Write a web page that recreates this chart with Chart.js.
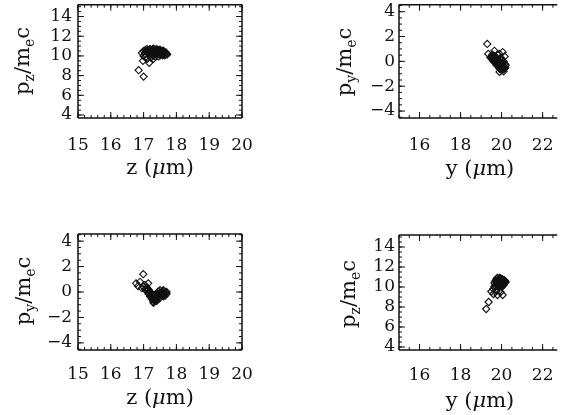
<!DOCTYPE html>
<html><head><meta charset="utf-8">
<script src="https://cdn.jsdelivr.net/npm/chart.js@4/dist/chart.umd.min.js"></script>
<style>
html,body{margin:0;padding:0;background:#fff;width:562px;height:415px;overflow:hidden;position:relative;font-family:"DejaVu Serif",serif;}
canvas{position:absolute;}
.t{position:absolute;white-space:nowrap;color:#111;font-size:21px;line-height:1;transform:translate(-50%,-50%);}
.yt{transform:translate(-50%,-50%) rotate(-90deg);}
sub{font-size:14px;vertical-align:-5px;line-height:0;}
</style></head><body>
<canvas id="c1" width="281" height="200" style="left:0;top:0"></canvas>
<canvas id="c2" width="281" height="200" style="left:281px;top:0"></canvas>
<canvas id="c3" width="281" height="215" style="left:0;top:200px"></canvas>
<canvas id="c4" width="281" height="215" style="left:281px;top:200px"></canvas>

<div class="t yt" style="left:22px;top:61px">p<sub>z</sub>/m<sub>e</sub>c</div>
<div class="t" style="left:160px;top:167px">z (<i>μ</i>m)</div>
<div class="t yt" style="left:344px;top:62px">p<sub>y</sub>/m<sub>e</sub>c</div>
<div class="t" style="left:480px;top:168px">y (<i>μ</i>m)</div>
<div class="t yt" style="left:23px;top:291px">p<sub>y</sub>/m<sub>e</sub>c</div>
<div class="t" style="left:160px;top:397px">z (<i>μ</i>m)</div>
<div class="t yt" style="left:348px;top:294px">p<sub>z</sub>/m<sub>e</sub>c</div>
<div class="t" style="left:480px;top:400px">y (<i>μ</i>m)</div>

<script>
// ---- tick labels ----
const zTicks  = [15, 16, 17, 18, 19, 20];
const yTicks  = [16, 18, 20, 22];
const pzTicks = [4, 6, 8, 10, 12, 14];
const pyTicks = [-4, -2, 0, 2, 4];

// ---- panel 1: z vs pz ----
const p1_z  = [16.95,17.0,17.05,17.1,17.15,17.2,17.25,17.3,17.35,17.4,17.45,17.5,17.55,17.6,17.65,17.7,
               17.05,17.1,17.15,17.2,17.25,17.3,17.35,17.4,17.45,17.5,17.55,17.6,17.65,17.3,17.4,17.5,17.45,17.35,17.2,17.0,
               17.22,17.28,17.32,17.38,17.42,17.48,17.52,17.58,17.62,17.68,17.72,17.35,17.45,17.55,17.65,17.25,17.15,17.12,
               17.08,17.18,17.28,17.42,17.5,17.6,17.38,17.48,17.58,17.3,
               16.98,17.11,17.17,17.3,17.05,17.22,
               16.85,17.0];
const p1_pz = [10.3,10.5,10.6,10.7,10.55,10.7,10.6,10.75,10.65,10.7,10.6,10.55,10.5,10.4,10.3,10.2,
               10.2,10.4,10.25,10.45,10.3,10.5,10.35,10.45,10.3,10.35,10.2,10.15,10.05,10.1,10.15,10.05,9.95,9.95,10.1,10.0,
               10.35,10.55,10.3,10.55,10.25,10.45,10.25,10.45,10.3,10.35,10.15,10.45,10.5,10.4,10.2,10.45,10.4,10.6,
               10.45,10.65,10.7,10.6,10.65,10.55,10.2,10.15,10.05,10.0,
               9.5,9.7,9.3,9.7,9.85,9.85,
               8.55,7.9];

// ---- panel 2: y vs py ----
const p2_y  = [19.5,19.55,19.6,19.6,19.65,19.7,19.7,19.75,19.75,19.8,19.8,19.85,19.85,19.9,19.9,19.95,19.95,20.0,20.0,20.05,20.05,20.1,20.15,20.1,19.9,19.65,19.95,20.0,20.1,20.2,19.55,
               19.52,19.58,19.62,19.68,19.72,19.78,19.82,19.88,19.92,19.98,20.02,20.08,20.12,20.18,19.7,19.8,19.9,20.0,19.85,19.95,20.05,19.75,19.65,19.6,20.15,
               19.35,19.65,20.05,19.8,19.45,19.9,20.15,
               19.3];
const p2_py = [0.4,0.2,0.3,0.0,0.15,-0.1,0.25,0.05,-0.3,-0.15,0.2,-0.4,0.0,-0.25,-0.6,-0.45,-0.1,-0.3,-0.7,-0.5,-0.15,-0.4,-0.55,-0.8,-0.85,0.45,0.3,0.1,0.0,-0.3,0.55,
               0.25,0.1,0.2,0.05,-0.05,-0.2,-0.05,-0.35,-0.4,-0.55,-0.45,-0.65,-0.6,-0.5,0.1,-0.3,-0.15,-0.2,-0.2,-0.3,-0.35,-0.15,0.3,0.4,-0.2,
               0.6,0.85,0.75,0.55,0.3,0.6,0.4,
               1.4];

// ---- panel 3: z vs py ----
const p3_z  = [17.0,17.05,17.1,17.1,17.15,17.15,17.2,17.2,17.25,17.25,17.3,17.3,17.35,17.35,17.4,17.4,17.45,17.45,17.5,17.5,17.55,17.55,17.6,17.6,17.65,17.65,17.7,17.7,17.3,17.4,17.5,17.6,
               17.08,17.12,17.18,17.22,17.28,17.32,17.38,17.42,17.48,17.52,17.58,17.62,17.68,17.45,17.35,17.25,17.4,17.55,17.5,17.3,17.2,17.15,17.45,17.6,17.35,
               16.77,16.89,17.04,16.83,17.14,16.95,
               16.99];
const p3_py = [0.4,0.2,0.35,0.05,0.2,-0.15,0.0,-0.35,-0.2,-0.55,-0.4,-0.75,-0.6,-0.25,-0.45,-0.1,-0.3,0.05,-0.15,-0.45,-0.05,-0.3,-0.2,0.05,-0.1,-0.3,-0.15,0.0,-0.85,-0.7,0.15,0.15,
               0.25,0.15,0.05,-0.1,-0.3,-0.5,-0.55,-0.35,-0.2,-0.25,-0.1,-0.15,-0.05,-0.55,-0.4,-0.4,-0.25,-0.15,-0.05,-0.6,-0.2,0.0,-0.15,-0.35,-0.7,
               0.68,0.8,0.55,0.47,0.68,0.3,
               1.4];

// ---- panel 4: y vs pz ----
const p4_y  = [19.7,19.75,19.8,19.8,19.85,19.85,19.9,19.9,19.95,19.95,20.0,20.0,20.05,20.05,20.1,20.1,20.15,20.15,19.75,19.7,19.9,20.0,19.65,20.2,19.85,
               19.78,19.82,19.88,19.92,19.98,20.02,20.08,20.12,19.88,19.95,20.05,19.92,20.0,20.1,19.85,19.8,20.15,19.75,19.95,20.05,
               19.5,19.6,19.65,19.8,19.6,19.95,20.05,19.75,
               19.25,19.37];
const p4_pz = [10.6,10.8,10.5,10.9,10.3,10.7,10.5,10.9,10.2,10.6,10.4,10.8,10.3,10.6,10.5,10.2,10.4,10.65,10.3,10.1,10.1,10.0,10.4,10.5,10.0,
               10.45,10.65,10.35,10.75,10.5,10.25,10.45,10.65,10.6,10.35,10.75,10.45,10.6,10.35,10.5,10.25,10.5,10.55,10.85,10.15,
               9.55,9.8,10.05,9.2,9.3,9.5,9.2,9.6,
               7.8,8.5];

const fmt = v => (v < 0 ? '\u2212' + Math.abs(v) : String(v));

const framePlugin = {
  id: 'frame',
  afterDraw(chart, args, o) {
    const ctx = chart.ctx, a = chart.chartArea, xs = chart.scales.x, ys = chart.scales.y;
    ctx.save();
    ctx.strokeStyle = '#111';
    ctx.lineWidth = 1.5;
    ctx.beginPath();
    ctx.moveTo(a.left, a.top); ctx.lineTo(a.right, a.top);
    ctx.moveTo(a.left, a.bottom); ctx.lineTo(a.right, a.bottom);
    ctx.moveTo(a.left, a.top); ctx.lineTo(a.left, a.bottom);
    if (o.right) { ctx.moveTo(a.right, a.top); ctx.lineTo(a.right, a.bottom); }
    ctx.stroke();
    ctx.lineWidth = 1;
    ctx.beginPath();
    const xt = (v, len) => {
      const p = xs.getPixelForValue(v);
      if (p < a.left - 0.5 || p > a.right + 0.5) return;
      ctx.moveTo(p, a.bottom); ctx.lineTo(p, a.bottom - len);
      ctx.moveTo(p, a.top); ctx.lineTo(p, a.top + len);
    };
    const yt = (v, len) => {
      const p = ys.getPixelForValue(v);
      if (p < a.top - 0.5 || p > a.bottom + 0.5) return;
      ctx.moveTo(a.left, p); ctx.lineTo(a.left + len, p);
      if (o.right) { ctx.moveTo(a.right, p); ctx.lineTo(a.right - len, p); }
    };
    for (let v = Math.ceil(xs.min / o.xMinor) * o.xMinor; v <= xs.max + 1e-9; v += o.xMinor) xt(v, 3);
    for (let v = Math.ceil(ys.min / o.yMinor) * o.yMinor; v <= ys.max + 1e-9; v += o.yMinor) yt(v, 3);
    o.xTicks.forEach(v => xt(v, 6));
    o.yTicks.forEach(v => yt(v, 6));
    ctx.stroke();
    ctx.restore();
  }
};

function panel(id, xv, yv, o) {
  const tickFont = { family: 'DejaVu Serif', size: 17 };
  const zeroPad = s => { s.paddingTop = 0; s.paddingBottom = 0; s.paddingLeft = 0; s.paddingRight = 0; };
  new Chart(document.getElementById(id), {
    type: 'scatter',
    data: { datasets: [{
      data: xv.map((x, i) => ({ x: x, y: yv[i] })),
      pointStyle: 'rectRot', radius: 3.6, hoverRadius: 3.6,
      borderColor: '#111', borderWidth: 1.1, backgroundColor: 'rgba(255,255,255,0)'
    }] },
    options: {
      responsive: false, animation: false, events: [], devicePixelRatio: 1,
      layout: { padding: { top: o.padTop, right: o.padRight, left: 0, bottom: 0 } },
      plugins: { legend: { display: false }, tooltip: { enabled: false },
        frame: { right: o.right, xTicks: o.xTicks, yTicks: o.yTicks, xMinor: o.xMinor, yMinor: o.yMinor } },
      scales: {
        x: { type: 'linear', position: 'bottom', min: o.xMin, max: o.xMax,
          afterBuildTicks: s => { s.ticks = o.xTicks.map(v => ({ value: v })); },
          afterFit: s => { s.height = o.xHeight; zeroPad(s); },
          grid: { display: false, drawTicks: false }, border: { display: false },
          ticks: { autoSkip: false, maxRotation: 0, padding: o.xPad, color: '#111', font: tickFont, callback: v => fmt(v) } },
        y: { type: 'linear', position: 'left', min: o.yMin, max: o.yMax,
          afterBuildTicks: s => { s.ticks = o.yTicks.map(v => ({ value: v })); },
          afterFit: s => { s.width = o.yWidth; zeroPad(s); },
          grid: { display: false, drawTicks: false }, border: { display: false },
          ticks: { autoSkip: false, padding: o.yPad, color: '#111', font: tickFont, callback: v => fmt(v) } }
      }
    },
    plugins: [framePlugin]
  });
}

panel('c1', p1_z, p1_pz, { xMin: 15, xMax: 20, xTicks: zTicks, xMinor: 0.2, yMin: 3.7, yMax: 15.2, yTicks: pzTicks, yMinor: 0.5,
  yWidth: 78, xHeight: 82, padTop: 4, padRight: 39, right: true, xPad: 17, yPad: 6 });
panel('c2', p2_y, p2_py, { xMin: 15, xMax: 22.714, xTicks: yTicks, xMinor: 0.5, yMin: -4.56, yMax: 4.56, yTicks: pyTicks, yMinor: 0.5,
  yWidth: 118, xHeight: 82, padTop: 4, padRight: 1, right: false, xPad: 17, yPad: 4 });
panel('c3', p3_z, p3_py, { xMin: 15, xMax: 20, xTicks: zTicks, xMinor: 0.2, yMin: -4.56, yMax: 4.56, yTicks: pyTicks, yMinor: 0.5,
  yWidth: 78, xHeight: 65, padTop: 34, padRight: 39, right: true, xPad: 14, yPad: 6 });
panel('c4', p4_y, p4_pz, { xMin: 15, xMax: 22.714, xTicks: yTicks, xMinor: 0.5, yMin: 3.7, yMax: 15.2, yTicks: pzTicks, yMinor: 0.5,
  yWidth: 118, xHeight: 65, padTop: 35, padRight: 1, right: false, xPad: 15, yPad: 4 });
</script>
</body></html>
